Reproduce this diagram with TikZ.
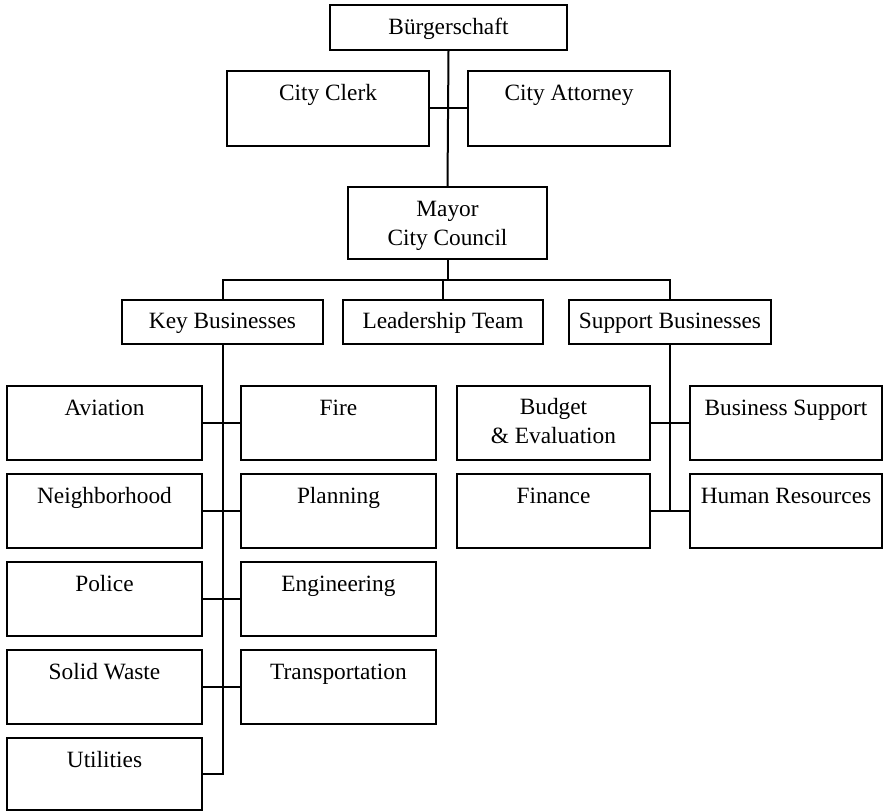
\documentclass[tikz,border=0pt]{standalone}
\usepackage{fontspec}
\setmainfont{Liberation Serif}
\usetikzlibrary{fit,calc}
\begin{document}
\begin{tikzpicture}[x=0.75pt,y=-0.75pt,
  orgbox/.style={draw, line width=1.5pt, inner sep=0pt},
  caption/.style={anchor=base, inner sep=0pt, align=center,
    font=\fontsize{17.5}{21.75}\selectfont},
  link/.style={line width=1.5pt}]
\useasboundingbox (0,0) rectangle (883,812);

% ---- boxes (corner coordinates) ----
\node[orgbox, fit={(330,5) (567,50)}]   (buerger) {};
\node[orgbox, fit={(227,71) (429,146)}] (clerk) {};
\node[orgbox, fit={(468,71) (670,146)}] (attorney) {};
\node[orgbox, fit={(348,187) (547,259)}] (mayor) {};
\node[orgbox, fit={(122,300) (323,344)}] (key) {};
\node[orgbox, fit={(343,300) (543,344)}] (lead) {};
\node[orgbox, fit={(569,300) (771,344)}] (support) {};

% key businesses, left column
\node[orgbox, fit={(7,386) (202,460)}] (aviation) {};
\node[orgbox, fit={(7,474) (202,548)}] (neigh) {};
\node[orgbox, fit={(7,562) (202,636)}] (police) {};
\node[orgbox, fit={(7,650) (202,724)}] (waste) {};
\node[orgbox, fit={(7,738) (202,810)}] (util) {};
% key businesses, right column
\node[orgbox, fit={(241,386) (436,460)}] (fire) {};
\node[orgbox, fit={(241,474) (436,548)}] (planning) {};
\node[orgbox, fit={(241,562) (436,636)}] (eng) {};
\node[orgbox, fit={(241,650) (436,724)}] (transp) {};

% support businesses
\node[orgbox, fit={(457,386) (650,460)}] (budget) {};
\node[orgbox, fit={(457,474) (650,548)}] (finance) {};
\node[orgbox, fit={(690,386) (882,460)}] (bizsup) {};
\node[orgbox, fit={(690,474) (882,548)}] (hr) {};

% ---- captions (baseline of the last line, measured from the box top) ----
\foreach \b/\d/\t in {buerger/31/B\"urgerschaft, clerk/31/City Clerk,
  attorney/31/City Attorney, mayor/60/{Mayor\\City Council},
  key/30/Key Businesses, lead/30/Leadership Team,
  support/30/Support Businesses, aviation/31/Aviation, neigh/31/Neighborhood,
  police/31/Police, waste/31/Solid Waste, util/31/Utilities, fire/31/Fire,
  planning/31/Planning, eng/31/Engineering, transp/31/Transportation,
  budget/59/{Budget\\\& Evaluation}, finance/31/Finance,
  bizsup/31/Business Support, hr/31/Human Resources}
  \node[caption] (\b-t) at ($(\b.north)+(0,\d)$) {\t};

% ---- connectors ----
\draw[link] (buerger.south) -- (mayor.north);
\draw[link] (clerk.east) -- (attorney.west);

\coordinate (bus) at ($(mayor.south)+(0,20)$);
\draw[link] (mayor.south) -- (bus);
\draw[link] (key.north) |- (bus) -| (support.north);
\draw[link] (lead.north) -- (lead.north |- bus);

\coordinate (keyend) at (key.south |- util.east);
\draw[link] (key.south) -- (keyend) -- (util.east);
\draw[link] (aviation.east) -- (fire.west);
\draw[link] (neigh.east) -- (planning.west);
\draw[link] (police.east) -- (eng.west);
\draw[link] (waste.east) -- (transp.west);

\coordinate (supend) at (support.south |- finance.east);
\draw[link] (support.south) -- (supend);
\draw[link] (budget.east) -- (bizsup.west);
\draw[link] (finance.east) -- (hr.west);
\end{tikzpicture}
\end{document}
